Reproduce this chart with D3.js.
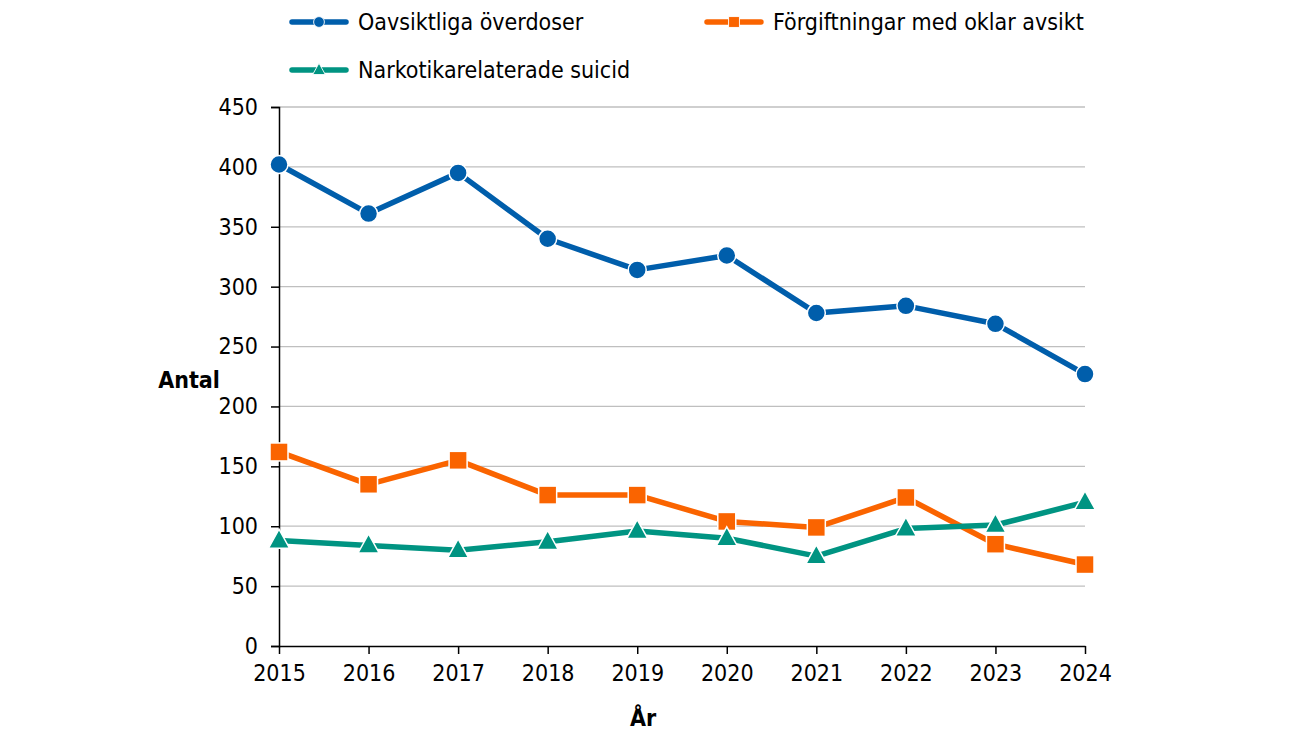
<!DOCTYPE html>
<html><head><meta charset="utf-8">
<script src="https://cdn.jsdelivr.net/npm/d3@7"></script>
<style>body{margin:0;background:#fff}svg{display:block}text{font-family:"DejaVu Sans Condensed","DejaVu Sans",sans-serif}</style>
</head><body>
<svg id="c" width="1300" height="732"></svg>
<script>
const years = [2015,2016,2017,2018,2019,2020,2021,2022,2023,2024];
const oavsiktliga = [402,361,395,340,314,326,278,284,269,227];
const forgiftningar = [162,135,155,126,126,104,99,124,85,68];
const suicid = [88,84,80,87,96,90,75,98,101,120];
const yTicks = [0,50,100,150,200,250,300,350,400,450];
const seriesNames = ["Oavsiktliga överdoser","Förgiftningar med oklar avsikt","Narkotikarelaterade suicid"];
const seriesColors = ["#005EAB","#FA6400","#009482"];
const seriesShapes = ["circle","square","triangle"];
const seriesValues = [oavsiktliga, forgiftningar, suicid];
const FONT = '"DejaVu Sans Condensed","DejaVu Sans",sans-serif';

const svg = d3.select("#c");
const x = d3.scalePoint().domain(years).range([279,1085]);
const y = d3.scaleLinear().domain([0,450]).range([646,107]);

svg.append("g").selectAll("line").data(yTicks.filter(d=>d>0)).join("line")
  .attr("x1",279).attr("x2",1085).attr("y1",d=>y(d)).attr("y2",d=>y(d))
  .attr("stroke","#BFBFBF").attr("stroke-width",1.3);

const ya = svg.append("g").attr("transform","translate(279,0)")
  .call(d3.axisLeft(y).tickValues(yTicks).tickSize(8).tickPadding(13));
ya.select(".domain").attr("stroke","#000").attr("stroke-width",1.5);
ya.selectAll(".tick line").attr("stroke","#000").attr("stroke-width",1.5);
ya.selectAll("text").attr("font-size",23).attr("fill","#000").attr("font-family",FONT);

const xa = svg.append("g").attr("transform","translate(0,646)")
  .call(d3.axisBottom(x).tickSize(8).tickPadding(11).tickSizeOuter(0).tickFormat(d3.format("d")));
xa.select(".domain").attr("stroke","#000").attr("stroke-width",1.5);
xa.selectAll(".tick line").attr("stroke","#000").attr("stroke-width",1.5);
xa.selectAll("text").attr("font-size",23).attr("fill","#000").attr("font-family",FONT);

svg.append("text").attr("x",189).attr("y",388).attr("text-anchor","middle")
  .attr("font-size",23).attr("font-weight","bold").text("Antal");
svg.append("text").attr("x",643).attr("y",726).attr("text-anchor","middle")
  .attr("font-size",23).attr("font-weight","bold").text("År");

function marker(g, shape, color, cx, cy, s){
  if(shape==="circle"){
    g.append("circle").attr("cx",cx).attr("cy",cy).attr("r",9*s)
      .attr("fill",color).attr("stroke","#fff").attr("stroke-width",1.5*s);
  } else if(shape==="square"){
    const h=9*s;
    g.append("rect").attr("x",cx-h).attr("y",cy-h).attr("width",2*h).attr("height",2*h)
      .attr("fill",color).attr("stroke","#fff").attr("stroke-width",1.5*s);
  } else {
    const w=21*s, hgt=19*s;
    const p = `M${cx},${cy-hgt*0.6}L${cx+w/2},${cy+hgt*0.4}L${cx-w/2},${cy+hgt*0.4}Z`;
    g.append("path").attr("d",p)
      .attr("fill",color).attr("stroke","#fff").attr("stroke-width",1.5*s).attr("stroke-linejoin","miter");
  }
}

const line = d3.line().x((d,i)=>x(years[i])).y(d=>y(d));
seriesValues.forEach((vals,k)=>{
  const g = svg.append("g");
  g.append("path").datum(vals).attr("d",line).attr("fill","none")
    .attr("stroke",seriesColors[k]).attr("stroke-width",5.5).attr("stroke-linejoin","round");
  vals.forEach((v,i)=>marker(g, seriesShapes[k], seriesColors[k], x(years[i]), y(v), 1));
});

const legPos = [[292,22],[707,22],[292,70]];
seriesNames.forEach((n,k)=>{
  const [lx,ly]=legPos[k];
  const g = svg.append("g");
  g.append("line").attr("x1",lx).attr("x2",lx+54).attr("y1",ly).attr("y2",ly)
    .attr("stroke",seriesColors[k]).attr("stroke-width",5.5).attr("stroke-linecap","round");
  marker(g, seriesShapes[k], seriesColors[k], lx+27, ly, 0.6);
  g.append("text").attr("x",lx+66).attr("y",ly+8).attr("font-size",23).attr("fill","#000").text(n);
});
</script>
</body></html>
